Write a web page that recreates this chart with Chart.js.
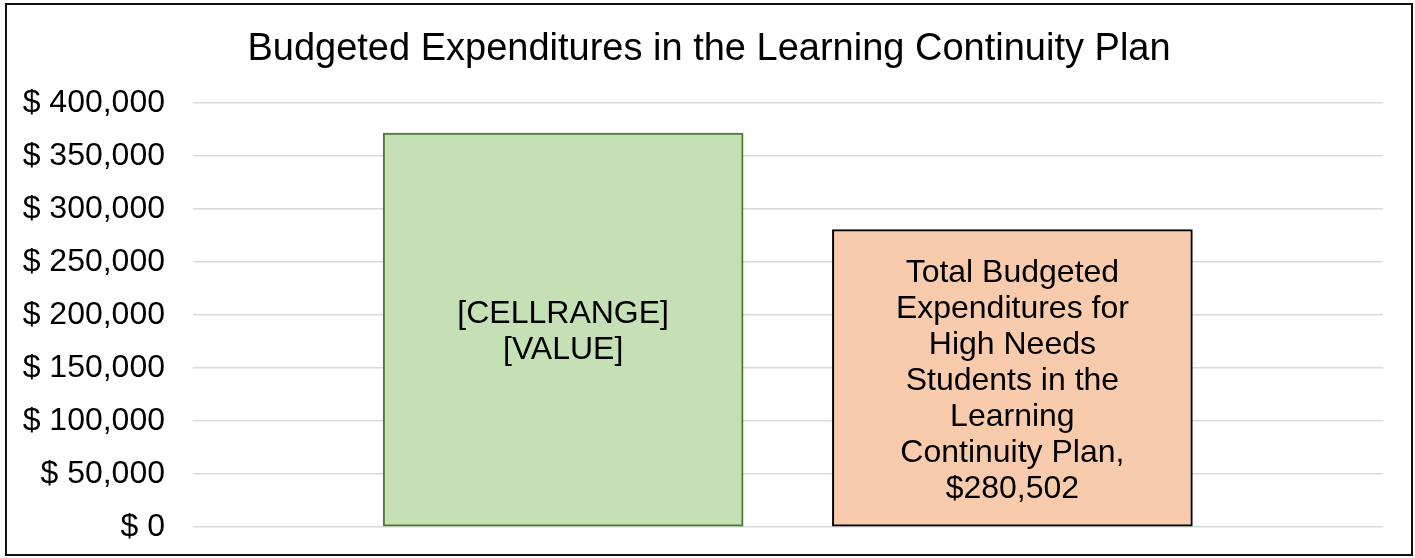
<!DOCTYPE html>
<html>
<head>
<meta charset="utf-8">
<script src="https://cdn.jsdelivr.net/npm/chart.js@4"></script>
<style>
  html, body { margin: 0; padding: 0; background: #fff; }
  #wrap { width: 1415px; height: 558px; }
</style>
</head>
<body>
<div id="wrap"><canvas id="myChart"></canvas></div>
<script>
var chartTitle = 'Budgeted Expenditures in the Learning Continuity Plan';
var categories = [
  'Total Budgeted Expenditures in the Learning Continuity Plan',
  'Total Budgeted Expenditures for High Needs Students in the Learning Continuity Plan'
];
var values = [371700, 280502];
var barLabels = ['[CELLRANGE] [VALUE]', categories[1] + ', $280,502'];
var fillColors = ['#C5E0B4', '#F8CBAD'];
var edgeColors = ['#4F7A32', '#000000'];

var FONT = '"Liberation Sans", Arial, sans-serif';

// outer frame and title (title is drawn here so it can sit off-centre like the original)
var framePlugin = {
  id: 'frame',
  afterDraw: function(chart) {
    var c = chart.ctx;
    c.save();
    c.strokeStyle = '#111';
    c.lineWidth = 2;
    c.strokeRect(6, 4, 1406, 551);
    c.font = '38px ' + FONT;
    c.fillStyle = '#000';
    c.textAlign = 'center';
    c.textBaseline = 'alphabetic';
    c.fillText(chartTitle, 709, 60);
    c.restore();
  }
};

// wrapped labels centred inside each bar
var labelPlugin = {
  id: 'barText',
  afterDatasetsDraw: function(chart) {
    var c = chart.ctx;
    var meta = chart.getDatasetMeta(0);
    c.save();
    c.font = '32px ' + FONT;
    c.fillStyle = '#000';
    c.textAlign = 'center';
    c.textBaseline = 'middle';
    meta.data.forEach(function(bar, i) {
      var words = barLabels[i].split(' ');
      var lines = [], cur = '';
      words.forEach(function(w) {
        var t = cur ? cur + ' ' + w : w;
        if (cur && c.measureText(t).width > 250) { lines.push(cur); cur = w; }
        else cur = t;
      });
      if (cur) lines.push(cur);
      var lh = 36;
      var mid = (bar.y + bar.base) / 2;
      var y0 = mid - (lines.length - 1) * lh / 2;
      lines.forEach(function(l, k) { c.fillText(l, bar.x, y0 + k * lh + 3); });
    });
    c.restore();
  }
};

var ctx = document.getElementById('myChart').getContext('2d');
var myChart = new Chart(ctx, {
  type: 'bar',
  data: {
    datasets: [{
      label: 'Budget',
      data: values.map(function(v, i) { return {x: i + 1, y: v}; }),
      backgroundColor: fillColors,
      borderColor: edgeColors,
      borderWidth: 2,
      borderSkipped: false,
      barThickness: 360
    }]
  },
  options: {
    responsive: true,
    maintainAspectRatio: false,
    animation: false,
    layout: { padding: { left: 0, right: 32, top: 103, bottom: 31 } },
    plugins: {
      legend: { display: false },
      tooltip: { enabled: false },
      title: { display: false }
    },
    scales: {
      x: {
        type: 'linear',
        display: false,
        offset: false,
        min: 0.176,
        max: 2.825
      },
      y: {
        min: 0,
        max: 400000,
        border: { display: false },
        grid: { color: '#D9D9D9', lineWidth: 1.5, drawTicks: true, tickLength: 28, tickColor: 'rgba(0,0,0,0)' },
        ticks: {
          stepSize: 50000,
          color: '#000',
          padding: 0,
          font: { family: FONT, size: 32 },
          callback: function(v) { return '$ ' + v.toLocaleString('en-US'); }
        },
        afterFit: function(s) { s.width = 193; }
      }
    }
  },
  plugins: [framePlugin, labelPlugin]
});
</script>
</body>
</html>
